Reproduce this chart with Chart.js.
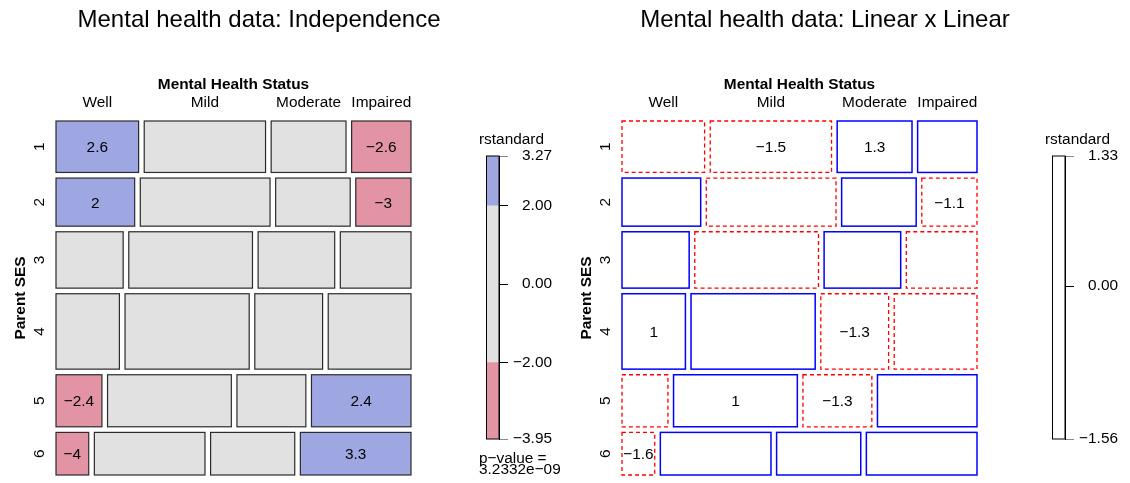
<!DOCTYPE html>
<html>
<head>
<meta charset="utf-8">
<script src="https://cdn.jsdelivr.net/npm/chart.js@4.4.1/dist/chart.umd.min.js"></script>
<style>
  body { margin: 0; background: #fff; width: 1130px; height: 483px; position: relative; overflow: hidden; }
  canvas { position: absolute; }
</style>
</head>
<body>
<canvas id="mosaicIndep" width="566" height="483" style="left:0;top:0"></canvas>
<canvas id="legendIndep" width="100" height="350" style="left:470px;top:130px"></canvas>
<canvas id="mosaicLin" width="564" height="483" style="left:566px;top:0"></canvas>
<canvas id="legendLin" width="100" height="350" style="left:1036px;top:130px"></canvas>
<script>
// Parent SES (rows 1-6) by mental health status
const sesLevels = ['1', '2', '3', '4', '5', '6'];
const statusLevels = ['Well', 'Mild', 'Moderate', 'Impaired'];

const countWell     = [64, 57, 57, 72, 36, 21];
const countMild     = [94, 94, 105, 141, 97, 71];
const countModerate = [58, 54, 65, 77, 54, 54];
const countImpaired = [46, 40, 60, 94, 78, 71];

// standardized residuals, independence model
const resIndepWell     = [2.57, 2.01, 0.65, 0.15, -2.36, -3.95];
const resIndepMild     = [-0.14, 0.74, 0.12, 0.21, 0.13, -1.18];
const resIndepModerate = [0.14, 0.10, 0.38, -0.97, -0.62, 1.15];
const resIndepImpaired = [-2.56, -3.02, -1.13, 0.55, 2.42, 3.27];

// standardized residuals, linear x linear model
const resLinWell     = [-0.62, 0.58, 0.42, 1.03, -0.73, -1.56];
const resLinMild     = [-1.49, -0.35, -0.48, 0.52, 1.01, 0.44];
const resLinModerate = [1.33, 0.47, 0.71, -1.29, -1.27, 0.57];
const resLinImpaired = [0.41, -1.12, -0.66, -0.31, 0.38, 0.69];

const shadeCuts = [-2, 2];
const legendTicks = [-2, 0, 2];
const pValueIndep = ['p\u2212value =', '3.2332e\u221209'];

const FONT = '"Liberation Sans", Arial, Helvetica, sans-serif';
const MINUS = '\u2212';
const GAP_X = 0.0166;
const GAP_Y = 0.0172;

const counts = sesLevels.map((_, i) => [countWell[i], countMild[i], countModerate[i], countImpaired[i]]);
const rowTotals = counts.map(r => r.reduce((a, b) => a + b, 0));
const grandTotal = rowTotals.reduce((a, b) => a + b, 0);

const byRow = (a, b, c, d) => sesLevels.map((_, i) => [a[i], b[i], c[i], d[i]]);
const resIndep = byRow(resIndepWell, resIndepMild, resIndepModerate, resIndepImpaired);
const resLin = byRow(resLinWell, resLinMild, resLinModerate, resLinImpaired);

const minus = s => s.replace('-', MINUS);
const shortLabel = v => minus(String(Number(v.toFixed(1))));

// fill for the independence panel: blue above +2, red below -2
function hclFill(r) {
  if (r > 2) return '#9EA7E1';
  if (r < -2) return '#E294A4';
  return '#E1E1E1';
}
const whiteFill = () => '#FFFFFF';

function mosaicPlugin(model) {
  return {
    id: 'mosaic',
    afterDraw(chart) {
      const { ctx, chartArea: area, scales: { x, y } } = chart;
      ctx.save();
      ctx.fillStyle = '#000';
      ctx.textBaseline = 'alphabetic';
      ctx.textAlign = 'center';
      ctx.font = '24px ' + FONT;
      ctx.fillText(model.title, 259, 27.3);

      ctx.font = 'bold 15.4px ' + FONT;
      ctx.fillText('Mental Health Status', (area.left + area.right) / 2, area.top - 32);

      let y0 = 0;
      counts.forEach((row, i) => {
        const h = rowTotals[i] / grandTotal;
        const py0 = y.getPixelForValue(y0);
        const py1 = y.getPixelForValue(y0 + h);
        let x0 = 0;
        row.forEach((n, j) => {
          const w = n / rowTotals[i];
          const px0 = x.getPixelForValue(x0);
          const px1 = x.getPixelForValue(x0 + w);
          const r = model.res[i][j];
          ctx.fillStyle = model.fill(r);
          ctx.fillRect(px0, py0, px1 - px0, py1 - py0);
          if (model.signBorders) {
            ctx.strokeStyle = r >= 0 ? '#0000FF' : '#FF0000';
            ctx.lineWidth = r >= 0 ? 1.5 : 1.3;
            ctx.setLineDash(r >= 0 ? [] : [4, 3]);
          } else {
            ctx.strokeStyle = '#2b2b2b';
            ctx.lineWidth = 1.2;
            ctx.setLineDash([]);
          }
          ctx.strokeRect(px0, py0, px1 - px0, py1 - py0);
          ctx.setLineDash([]);
          ctx.fillStyle = '#000';
          ctx.font = '15.4px ' + FONT;
          if (Math.abs(r) > model.labelAbove) {
            ctx.fillText(shortLabel(r), (px0 + px1) / 2, (py0 + py1) / 2 + 5.5);
          }
          if (i === 0) {
            ctx.fillText(statusLevels[j], (px0 + px1) / 2, area.top - 13.7);
          }
          x0 += w + GAP_X;
        });
        // rotated SES level
        ctx.save();
        ctx.translate(area.left - 12.5, (py0 + py1) / 2);
        ctx.rotate(-Math.PI / 2);
        ctx.fillText(sesLevels[i], 0, 0);
        ctx.restore();
        y0 += h + GAP_Y;
      });

      ctx.save();
      ctx.font = 'bold 15.4px ' + FONT;
      ctx.translate(area.left - 31, (area.top + area.bottom) / 2);
      ctx.rotate(-Math.PI / 2);
      ctx.fillText('Parent SES', 0, 0);
      ctx.restore();
      ctx.restore();
    }
  };
}

function drawMosaic(id, model) {
  new Chart(document.getElementById(id), {
    type: 'scatter',
    data: { datasets: [] },
    options: {
      responsive: false,
      animation: false,
      events: [],
      layout: { padding: { left: 56, top: 121, right: document.getElementById(id).width - 411, bottom: 8 } },
      scales: {
        x: { type: 'linear', display: false, min: 0, max: 1 + 3 * GAP_X },
        y: { type: 'linear', display: false, reverse: true, min: 0, max: 1 + 5 * GAP_Y }
      },
      plugins: { legend: { display: false }, tooltip: { enabled: false } }
    },
    plugins: [mosaicPlugin(model)]
  });
}

function drawLegend(id, res, fill, pText) {
  const all = res.flat();
  const lo = Math.min(...all);
  const hi = Math.max(...all);
  const bounds = [lo, ...shadeCuts.filter(c => c > lo && c < hi), hi];
  const datasets = bounds.slice(1).map((b, k) => ({
    data: [[bounds[k], b]],
    backgroundColor: fill((bounds[k] + b) / 2),
    borderWidth: 0,
    grouped: false,
    barPercentage: 1,
    categoryPercentage: 1
  }));
  const tickVals = [hi, ...legendTicks.filter(v => v > lo && v < hi).reverse(), lo];

  const outline = {
    id: 'legendOutline',
    afterDraw(chart) {
      const { ctx, chartArea: a } = chart;
      ctx.save();
      ctx.strokeStyle = '#000';
      ctx.lineWidth = 1;
      ctx.strokeRect(a.left + 0.5, a.top, a.width - 0.5, a.height);
      ctx.fillStyle = '#000';
      ctx.font = '15.4px ' + FONT;
      ctx.textAlign = 'center';
      ctx.textBaseline = 'alphabetic';
      ctx.fillText('rstandard', a.left + 25.5, a.top - 12);
      if (pText) {
        ctx.textAlign = 'left';
        ctx.fillText(pText[0], a.left - 7, a.bottom + 24.3);
        ctx.fillText(pText[1], a.left - 7, a.bottom + 35.3);
      }
      ctx.restore();
    }
  };

  new Chart(document.getElementById(id), {
    type: 'bar',
    data: { labels: ['rstandard'], datasets },
    options: {
      responsive: false,
      animation: false,
      events: [],
      layout: { padding: { left: 16, top: 26, right: 18, bottom: 41 } },
      scales: {
        x: { display: false },
        y: {
          position: 'right',
          min: lo,
          max: hi,
          afterBuildTicks: s => { s.ticks = tickVals.map(v => ({ value: v })); },
          afterFit: s => { s.width = 53; },
          border: { display: true, color: '#000', width: 1 },
          grid: {
            drawOnChartArea: false,
            drawTicks: true,
            tickLength: 9,
            lineWidth: 1,
            color: c => (c.tick && (c.tick.value === lo || c.tick.value === hi)) ? '#8a8a8a' : '#000'
          },
          ticks: {
            autoSkip: false,
            crossAlign: 'far',
            color: '#000',
            font: { family: FONT, size: 15.4 },
            callback: v => minus(Number(v).toFixed(2))
          }
        }
      },
      plugins: { legend: { display: false }, tooltip: { enabled: false } }
    },
    plugins: [outline]
  });
}

drawMosaic('mosaicIndep', {
  title: 'Mental health data: Independence',
  res: resIndep, fill: hclFill, signBorders: false, labelAbove: 2
});
drawLegend('legendIndep', resIndep, hclFill, pValueIndep);

drawMosaic('mosaicLin', {
  title: 'Mental health data: Linear x Linear',
  res: resLin, fill: whiteFill, signBorders: true, labelAbove: 1
});
drawLegend('legendLin', resLin, whiteFill, null);
</script>
</body>
</html>
